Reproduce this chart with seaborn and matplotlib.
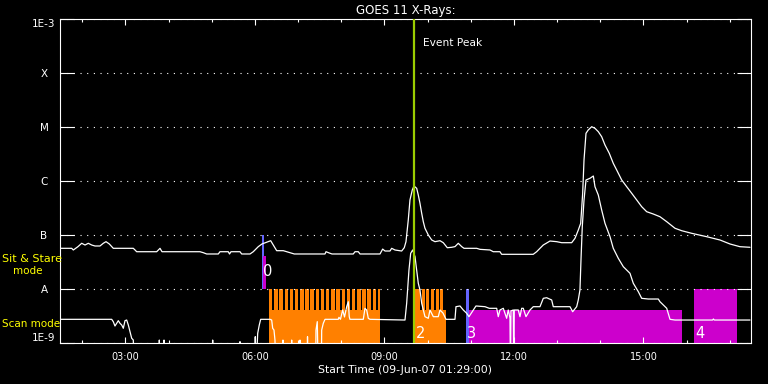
import numpy as np
import pandas as pd
import matplotlib
matplotlib.use("Agg")
import matplotlib.pyplot as plt
from matplotlib.ticker import NullLocator
import seaborn as sns

# ---------------- data (time in decimal hours UT, 09-Jun-2007; flux as log10 W/m^2) -------------
long_t = [
    1.483, 1.754, 1.792, 1.900, 1.986, 2.063, 2.139, 2.218, 2.294, 2.410,
    2.486, 2.549, 2.625, 2.718, 3.181, 3.221, 3.260, 3.723, 3.777, 3.800,
    3.846, 4.726, 4.803, 4.881, 5.150, 5.189, 5.382, 5.410, 5.444, 5.653,
    5.692, 5.885, 5.960, 6.077, 6.163, 6.255, 6.364, 6.424, 6.503, 6.656,
    6.911, 7.622, 7.645, 7.738, 7.784, 8.277, 8.317, 8.393, 8.433, 8.896,
    8.958, 9.012, 9.127, 9.167, 9.243, 9.398, 9.458, 9.498, 9.551, 9.590,
    9.644, 9.683, 9.746, 9.783, 9.822, 9.862, 9.899, 9.938, 10.015, 10.094,
    10.170, 10.286, 10.362, 10.455, 10.557, 10.633, 10.710, 10.789, 10.842, 11.136,
    11.212, 11.444, 11.520, 11.675, 11.714, 12.446, 12.525, 12.602, 12.678, 12.757,
    12.834, 12.989, 13.105, 13.336, 13.413, 13.490, 13.545, 13.591, 13.622, 13.668,
    13.720, 13.800, 13.876, 13.953, 14.031, 14.108, 14.207, 14.300, 14.379, 14.495,
    14.611, 14.727, 14.843, 14.958, 15.074, 15.227, 15.382, 15.538, 15.730, 15.885,
    16.116, 16.464, 16.772, 17.004, 17.235, 17.467,
]
long_log = [
    -7.241, -7.241, -7.272, -7.210, -7.148, -7.180, -7.148, -7.180, -7.198, -7.198,
    -7.148, -7.118, -7.160, -7.241, -7.241, -7.272, -7.304, -7.304, -7.260, -7.241,
    -7.304, -7.304, -7.322, -7.346, -7.346, -7.304, -7.304, -7.346, -7.304, -7.304,
    -7.346, -7.346, -7.304, -7.210, -7.160, -7.133, -7.100, -7.180, -7.285, -7.285,
    -7.346, -7.346, -7.304, -7.333, -7.346, -7.346, -7.304, -7.304, -7.346, -7.346,
    -7.255, -7.291, -7.291, -7.241, -7.272, -7.291, -7.230, -7.118, -6.717, -6.346,
    -6.161, -6.087, -6.130, -6.254, -6.407, -6.593, -6.748, -6.870, -6.994, -7.087,
    -7.118, -7.100, -7.137, -7.230, -7.222, -7.210, -7.148, -7.210, -7.241, -7.241,
    -7.260, -7.272, -7.304, -7.304, -7.352, -7.352, -7.304, -7.241, -7.180, -7.143,
    -7.106, -7.118, -7.137, -7.137, -7.056, -6.902, -6.778, -6.222, -5.606, -5.111,
    -5.050, -4.989, -5.019, -5.081, -5.174, -5.328, -5.481, -5.667, -5.791, -5.976,
    -6.100, -6.222, -6.346, -6.470, -6.563, -6.606, -6.656, -6.748, -6.870, -6.915,
    -6.963, -7.026, -7.087, -7.161, -7.211, -7.222,
]
short_t = [
    1.483, 2.681, 2.718, 2.757, 2.796, 2.834, 2.873, 2.913, 2.950, 2.989,
    3.028, 3.066, 3.105, 3.144, 3.181, 3.204, 3.770, 3.784, 3.798, 3.880,
    3.893, 3.906, 5.010, 5.020, 5.032, 5.640, 5.653, 5.666, 5.995, 6.007,
    6.020, 6.063, 6.100, 6.132, 6.348, 6.387, 6.410, 6.440, 6.463, 6.487,
    6.640, 6.648, 6.656, 6.842, 6.850, 6.858, 7.035, 7.043, 7.051, 7.209,
    7.217, 7.225, 7.405, 7.413, 7.443, 7.467, 7.537, 7.545, 7.582, 7.622,
    7.929, 7.945, 7.980, 8.032, 8.074, 8.124, 8.161, 8.184, 8.200, 8.509,
    8.548, 8.588, 8.625, 8.664, 9.475, 9.514, 9.567, 9.607, 9.653, 9.707,
    9.746, 9.783, 9.822, 9.862, 9.938, 10.015, 10.054, 10.131, 10.246, 10.286,
    10.355, 10.425, 10.633, 10.656, 10.749, 10.825, 10.904, 10.957, 11.057, 11.119,
    11.328, 11.428, 11.599, 11.636, 11.675, 11.752, 11.830, 11.867, 11.907, 11.918,
    11.930, 11.983, 11.995, 12.007, 12.099, 12.139, 12.178, 12.215, 12.278, 12.371,
    12.447, 12.602, 12.679, 12.757, 12.873, 12.910, 13.297, 13.359, 13.452, 13.489,
    13.528, 13.552, 13.582, 13.622, 13.668, 13.761, 13.838, 13.876, 13.953, 14.031,
    14.108, 14.224, 14.300, 14.416, 14.532, 14.687, 14.764, 14.880, 14.958, 15.111,
    15.343, 15.382, 15.538, 15.614, 15.730, 16.600, 16.620, 16.640, 17.467,
]
short_log = [
    -8.556, -8.556, -8.600, -8.680, -8.630, -8.581, -8.630, -8.661, -8.722, -8.581,
    -8.569, -8.661, -8.785, -8.907, -8.939, -9.600, -9.600, -8.940, -9.600, -9.600,
    -8.940, -9.600, -9.600, -8.940, -9.600, -9.600, -8.970, -9.600, -9.600, -8.878,
    -9.600, -8.815, -8.661, -8.556, -8.556, -8.569, -8.722, -8.754, -8.939, -9.600,
    -9.600, -8.940, -9.600, -9.600, -8.940, -9.600, -9.600, -8.940, -9.600, -9.600,
    -8.878, -9.600, -9.600, -8.754, -8.599, -9.600, -9.600, -8.754, -8.630, -8.556,
    -8.556, -8.519, -8.556, -8.383, -8.513, -8.322, -8.230, -8.507, -8.556, -8.556,
    -8.352, -8.383, -8.537, -8.556, -8.569, -8.259, -7.643, -7.333, -7.272, -7.396,
    -7.643, -7.889, -8.013, -8.259, -8.507, -8.537, -8.383, -8.507, -8.507, -8.383,
    -8.440, -8.556, -8.556, -8.322, -8.309, -8.383, -8.444, -8.507, -8.383, -8.309,
    -8.322, -8.352, -8.352, -8.507, -8.383, -8.352, -8.537, -8.383, -8.531, -9.600,
    -8.400, -8.383, -9.600, -8.383, -8.383, -8.507, -8.352, -8.352, -8.507, -8.383,
    -8.322, -8.322, -8.167, -8.156, -8.198, -8.322, -8.322, -8.415, -8.322, -8.198,
    -8.013, -7.457, -6.841, -6.346, -5.976, -5.944, -5.902, -6.100, -6.254, -6.531,
    -6.778, -7.026, -7.241, -7.426, -7.581, -7.704, -7.889, -8.044, -8.167, -8.180,
    -8.180, -8.230, -8.352, -8.556, -8.569, -8.569, -8.550, -8.569, -8.569,
]

class_levels = [-9, -8, -7, -6, -5, -4, -3]
class_labels = ["1E-9", "A", "B", "C", "M", "X", "1E-3"]
hour_ticks = [3, 6, 9, 12, 15]
hour_labels = ["03:00", "06:00", "09:00", "12:00", "15:00"]
minor_hours = [2, 4, 5, 7, 8, 10, 11, 13, 14, 16, 17]
start_hour = 1 + 29 / 60
end_hour = start_hour + 16

event_peak = 9.683

# observation-mode intervals (start, end, bottom log, top log)
sitstare_blue = (6.163, 6.209, -8.0, -7.0)
sitstare_mag = (6.193, 6.248, -8.0, -7.383)
scan1_base = (6.325, 8.896, -9.0, -8.383)
scan1_teeth_start = [6.325, 6.445, 6.565, 6.685, 6.805, 6.925, 7.045, 7.165, 7.285, 7.405, 7.525,
                     7.645, 7.765, 7.885, 8.005, 8.125, 8.245, 8.365, 8.485, 8.605, 8.725, 8.845]
scan1_teeth_end = [6.405, 6.525, 6.645, 6.765, 6.885, 7.005, 7.125, 7.245, 7.365, 7.485, 7.605,
                   7.725, 7.845, 7.965, 8.085, 8.205, 8.325, 8.445, 8.565, 8.685, 8.805, 8.896]
scan2_base = (9.707, 10.425, -9.0, -8.383)
scan2_teeth_start = [9.707, 9.862, 9.968, 10.077, 10.186, 10.292]
scan2_teeth_end = [9.823, 9.931, 10.038, 10.146, 10.255, 10.362]
teeth_range = (-8.383, -8.0)
blue2 = (10.895, 10.965, -9.0, -8.0)
mag3 = (10.965, 15.885, -9.0, -8.383)
mag4 = (16.170, 17.158, -9.0, -8.0)
interval_labels = ["0", "2", "3", "4"]
interval_label_t = [6.197, 9.735, 10.918, 16.19]
interval_label_log = [-7.67, -8.81, -8.81, -8.81]

BLUE = "#6464ff"
MAG = "#cc00cc"
ORANGE = "#ff8000"
GREEN = "#9acd00"
YELLOW = "#ffff00"

# ---------------- style ----------------
sns.set_theme(style="dark", rc={
    "axes.facecolor": "black", "figure.facecolor": "black", "savefig.facecolor": "black",
    "axes.edgecolor": "white", "text.color": "white", "xtick.color": "white",
    "ytick.color": "white", "axes.labelcolor": "white", "axes.grid": False,
    "axes.linewidth": 0.8,
})
plt.rcParams["font.family"] = ["DejaVu Sans"]

fig = plt.figure(figsize=(7.68, 3.84), dpi=100)
ax = fig.add_axes([60 / 768, 1 - 343.3 / 384, 690.7 / 768, 324 / 384])
ax.set_yscale("log")

def span(a, b, lo, hi, color):
    ax.fill_between([a, b], [10.0 ** lo] * 2, [10.0 ** hi] * 2, color=color, lw=0,
                    zorder=1, antialiased=False)

span(*sitstare_blue, BLUE)
span(*sitstare_mag, MAG)
span(*scan1_base, ORANGE)
for a, b in zip(scan1_teeth_start, scan1_teeth_end):
    span(a, b, *teeth_range, ORANGE)
span(*scan2_base, ORANGE)
for a, b in zip(scan2_teeth_start, scan2_teeth_end):
    span(a, b, *teeth_range, ORANGE)
span(*blue2, BLUE)
span(*mag3, MAG)
span(*mag4, MAG)

df_long = pd.DataFrame({"t": long_t, "flux": 10.0 ** np.array(long_log)})
df_short = pd.DataFrame({"t": short_t, "flux": 10.0 ** np.array(short_log)})
sns.lineplot(data=df_long, x="t", y="flux", ax=ax, color="white", lw=0.9,
             estimator=None, sort=False, zorder=3)
sns.lineplot(data=df_short, x="t", y="flux", ax=ax, color="white", lw=0.9,
             estimator=None, sort=False, zorder=3)

ax.axvline(event_peak, color=GREEN, lw=1.6, zorder=4)
ax.text(event_peak + 0.215, 10 ** -3.433, "Event Peak", fontsize=7.7, ha="left", va="center",
        color="white")

for lab, t, v in zip(interval_labels, interval_label_t, interval_label_log):
    ax.text(t, 10 ** v, lab, fontsize=10.5, ha="left", va="center", color="white", zorder=5)

ax.set_xlim(start_hour, end_hour)
ax.set_ylim(1e-9, 1e-3)
ax.set_xticks(hour_ticks, labels=hour_labels)
ax.set_xticks(minor_hours, minor=True)
ax.tick_params(axis="x", which="major", direction="in", length=4.5, width=0.8,
               top=True, bottom=True, labelsize=7, pad=6, colors="white")
ax.tick_params(axis="x", which="minor", direction="in", length=2.5, width=0.8,
               top=True, bottom=True, colors="white")
ax.set_yticks([10.0 ** v for v in class_levels], labels=class_labels)
ax.yaxis.set_minor_locator(NullLocator())
ax.tick_params(axis="y", which="major", direction="in", length=10, width=0.8,
               left=True, right=True, labelsize=7.5, pad=11.5, colors="white")
ylabs = ax.get_yticklabels()
for lab in ylabs:
    lab.set_ha("center")
ylabs[0].set_va("bottom")
ylabs[-1].set_va("top")

ax.grid(axis="y", which="major", color="white", linestyle=(0, (1, 5)), linewidth=0.8)
ax.set_axisbelow(False)
for s in ax.spines.values():
    s.set_color("white")
    s.set_linewidth(0.8)

ax.set_title("GOES 11 X-Rays:", color="white", fontsize=8.5, pad=4)
ax.set_xlabel("Start Time (09-Jun-07 01:29:00)", fontsize=7.8, labelpad=2.5, color="white")
ax.set_ylabel("")

fig.text(2 / 768, 1 - 259 / 384, "Sit & Stare", color=YELLOW, fontsize=8, ha="left", va="center")
fig.text(13 / 768, 1 - 271 / 384, "mode", color=YELLOW, fontsize=7.5, ha="left", va="center")
fig.text(2 / 768, 1 - 324 / 384, "Scan mode", color=YELLOW, fontsize=7.5, ha="left", va="center")

fig.savefig("out.png", dpi=100, facecolor="black")
